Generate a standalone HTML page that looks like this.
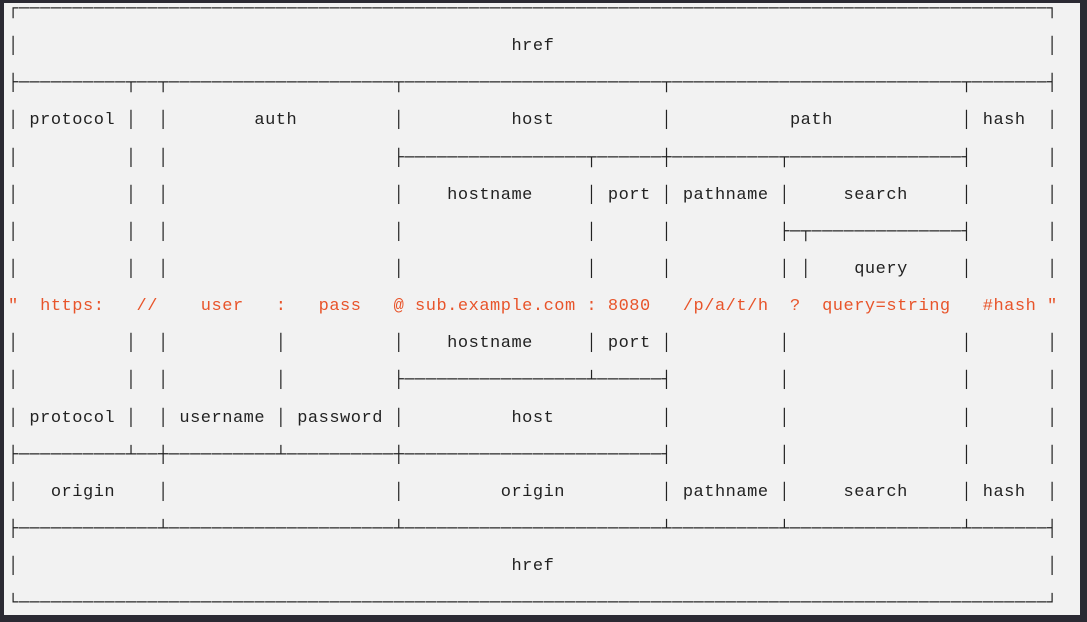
<!DOCTYPE html>
<html><head><meta charset="utf-8"><style>
html,body{margin:0;padding:0;}
body{width:1087px;height:620px;background:#2b2a33;position:relative;overflow:hidden;}
#bg{position:absolute;left:4px;top:3px;width:1076px;height:612px;background:#f2f2f2;}
pre{position:absolute;left:8px;top:-9px;margin:0;font-family:"Liberation Mono","DejaVu Sans Mono",monospace;font-size:17px;letter-spacing:0.51px;line-height:37.14px;color:#222;white-space:pre;}
.o{color:#e8542a;}
</style></head><body>
<div id="bg"></div>
<pre>┌────────────────────────────────────────────────────────────────────────────────────────────────┐
│                                              href                                              │
├──────────┬──┬─────────────────────┬────────────────────────┬───────────────────────────┬───────┤
│ protocol │  │        auth         │          host          │           path            │ hash  │
│          │  │                     ├─────────────────┬──────┼──────────┬────────────────┤       │
│          │  │                     │    hostname     │ port │ pathname │     search     │       │
│          │  │                     │                 │      │          ├─┬──────────────┤       │
│          │  │                     │                 │      │          │ │    query     │       │
<span class="o">"  https:   //    user   :   pass   @ sub.example.com : 8080   /p/a/t/h  ?  query=string   #hash "</span>
│          │  │          │          │    hostname     │ port │          │                │       │
│          │  │          │          ├─────────────────┴──────┤          │                │       │
│ protocol │  │ username │ password │          host          │          │                │       │
├──────────┴──┼──────────┴──────────┼────────────────────────┤          │                │       │
│   origin    │                     │         origin         │ pathname │     search     │ hash  │
├─────────────┴─────────────────────┴────────────────────────┴──────────┴────────────────┴───────┤
│                                              href                                              │
└────────────────────────────────────────────────────────────────────────────────────────────────┘</pre>
</body></html>
